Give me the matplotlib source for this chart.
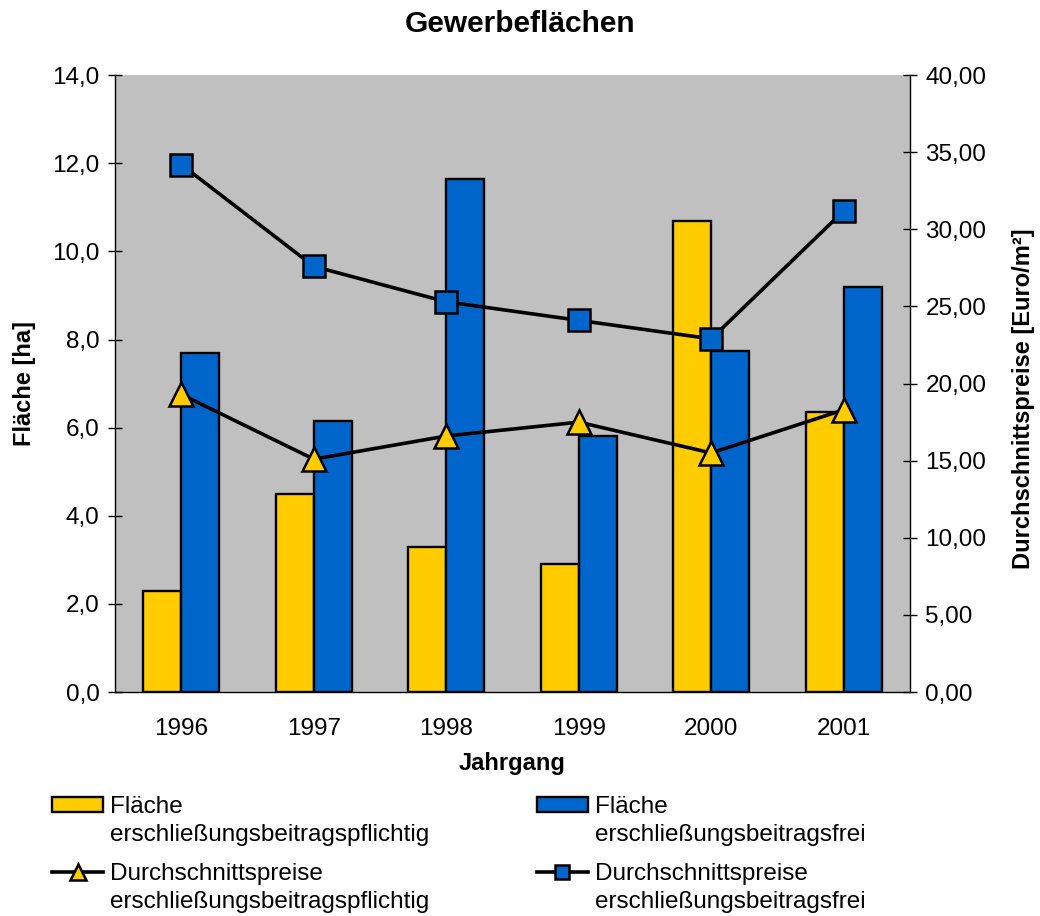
import numpy as np
import matplotlib
matplotlib.use("Agg")
import matplotlib.pyplot as plt
from matplotlib.ticker import FuncFormatter, MultipleLocator

plt.rcParams['font.family'] = ['Liberation Sans', 'DejaVu Sans']

# Data
years = ["1996", "1997", "1998", "1999", "2000", "2001"]
flaeche_pflichtig = [2.3, 4.5, 3.3, 2.9, 10.7, 6.35]
flaeche_frei = [7.7, 6.15, 11.65, 5.8, 7.75, 9.2]
preis_pflichtig = [19.3, 15.1, 16.6, 17.5, 15.5, 18.3]
preis_frei = [34.2, 27.6, 25.3, 24.1, 22.9, 31.2]

YELLOW = "#FFCC00"
BLUE = "#0066CC"
BG = "#C0C0C0"

fig = plt.figure(figsize=(10.4, 9.16), dpi=100)
ax = fig.add_axes([0.1106, 0.2445, 0.7644, 0.6735])
ax.set_facecolor(BG)

x = np.arange(len(years))
w = 0.287
b1 = ax.bar(x - w / 2, flaeche_pflichtig, w, color=YELLOW, edgecolor="black", linewidth=1.7, zorder=2)
b2 = ax.bar(x + w / 2, flaeche_frei, w, color=BLUE, edgecolor="black", linewidth=1.7, zorder=2)

ax.set_xlim(-0.5, len(years) - 0.5)
ax.set_ylim(0, 14)
ax.yaxis.set_major_locator(MultipleLocator(2))
ax.yaxis.set_major_formatter(FuncFormatter(lambda v, p: f"{v:.1f}".replace(".", ",")))
ax.set_xticks(x)
ax.set_xticklabels(years)
ax.tick_params(axis="y", direction="inout", length=10, width=1, labelsize=17.5, pad=6)
ax.tick_params(axis="x", length=0, labelsize=17.5, pad=19)
for s in ["top", "right"]:
    ax.spines[s].set_visible(False)
ax.spines["left"].set_linewidth(1)
ax.spines["bottom"].set_linewidth(1)

ax2 = ax.twinx()
ax2.set_ylim(0, 40)
ax2.yaxis.set_major_locator(MultipleLocator(5))
ax2.yaxis.set_major_formatter(FuncFormatter(lambda v, p: f"{v:.2f}".replace(".", ",")))
ax2.tick_params(axis="y", direction="inout", length=10, width=1, labelsize=17.5, pad=6)
for s in ["top", "left", "bottom"]:
    ax2.spines[s].set_visible(False)
ax2.spines["right"].set_linewidth(1)

l1, = ax2.plot(x, preis_pflichtig, color="black", linewidth=2.6, marker="^", markersize=17,
               markerfacecolor=YELLOW, markeredgecolor="black", markeredgewidth=1.8, zorder=3)
l2, = ax2.plot(x, preis_frei, color="black", linewidth=2.6, marker="s", markersize=16,
               markerfacecolor=BLUE, markeredgecolor="black", markeredgewidth=1.8, zorder=3)

fig.text(0.5, 0.974, "Gewerbeflächen", ha="center", va="center", fontsize=21.5, fontweight="bold")
ax.set_xlabel("Jahrgang", fontsize=17, fontweight="bold", labelpad=8)
ax.set_ylabel("Fläche [ha]", fontsize=17, fontweight="bold", labelpad=12)
ax2.set_ylabel("Durchschnittspreise [Euro/m²]", fontsize=17, fontweight="bold")
ax2.yaxis.set_label_coords(1.128, 0.475)

# legend: one legend per column, first line in the legend, second line added below
first_lines = [["Fläche", "Durchschnittspreise"], ["Fläche", "Durchschnittspreise"]]
second_lines = [["erschließungsbeitragspflichtig", "erschließungsbeitragspflichtig"],
                ["erschließungsbeitragsfrei", "erschließungsbeitragsfrei"]]
columns = [[b1, l1], [b2, l2]]
col_x = [0.05, 0.516]
legends = []
for hs, labs, cx in zip(columns, first_lines, col_x):
    lg = fig.legend(hs, labs, loc="upper left", bbox_to_anchor=(cx, 0.131),
                    frameon=False, fontsize=17.5, handlelength=2.1, handleheight=0.6,
                    handletextpad=0.3, labelspacing=1.84, borderpad=0,
                    borderaxespad=0, markerscale=0.65)
    legends.append(lg)

fig.canvas.draw()
inv = fig.transFigure.inverted()
for lg, seconds in zip(legends, second_lines):
    for t, s in zip(lg.get_texts(), seconds):
        bb = t.get_window_extent()
        x0, yc = inv.transform((bb.x0, (bb.y0 + bb.y1) / 2 - 28))
        fig.text(x0, yc, s, ha="left", va="center", fontsize=17.5)

fig.savefig("out.png", dpi=100)
